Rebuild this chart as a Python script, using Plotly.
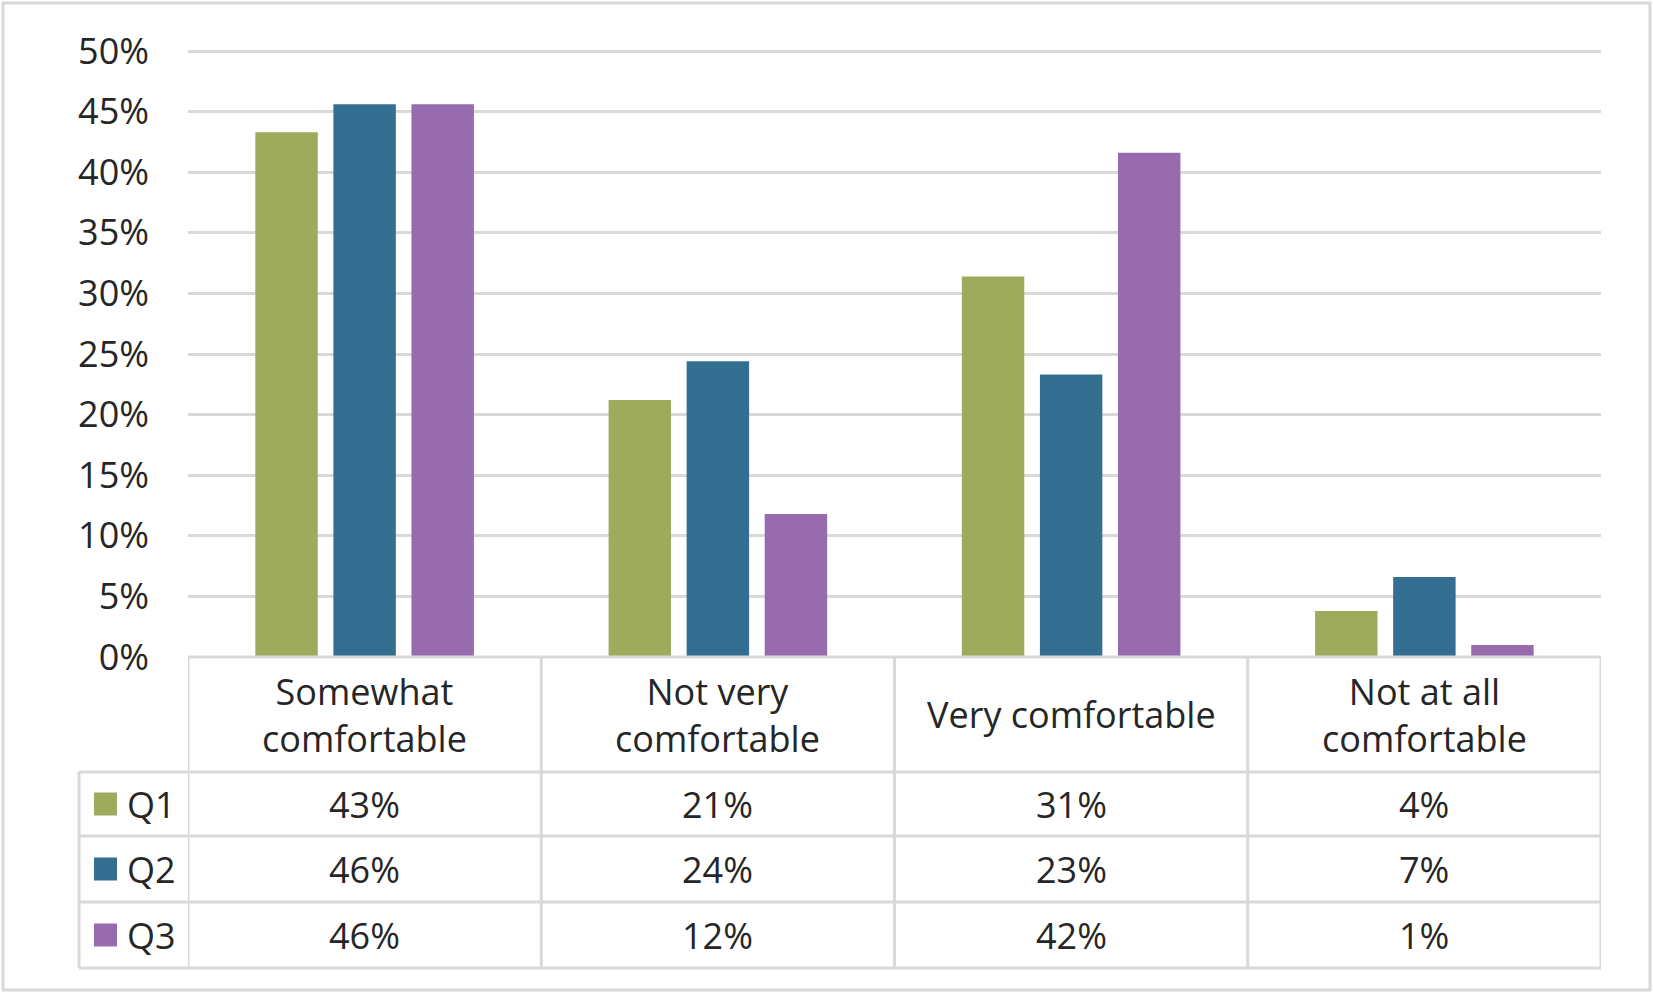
import plotly.graph_objects as go

# ---- data ----
categories = ["Somewhat comfortable", "Not very comfortable", "Very comfortable", "Not at all comfortable"]
category_labels = ["Somewhat<br>comfortable", "Not very<br>comfortable", "Very comfortable", "Not at all<br>comfortable"]
series_names = ["Q1", "Q2", "Q3"]
q1_values = [43.3, 21.2, 31.4, 3.8]
q2_values = [45.6, 24.4, 23.3, 6.6]
q3_values = [45.6, 11.8, 41.6, 1.0]
series_values = [q1_values, q2_values, q3_values]
series_colors = ["#9EAB5D", "#346F91", "#986BAE"]
y_ticks = [0, 5, 10, 15, 20, 25, 30, 35, 40, 45, 50]

# ---- layout constants (pixels) ----
W, H = 1653, 993
L, R, T, B = 188, 52, 49, 336
PW, PH = W - L - R, H - T - B
Y_TOP = 50 * PH / (PH - 2)  # keep the 50% gridline 2px inside the plot area
FONT = "Open Sans"
TXT = "#262626"
LINE = "#D9D9D9"
FS = 36


def px_x(px):
    return (px - L) / PW


def px_y(py):
    return (H - B - py) / PH


fig = go.Figure()
for name, vals, col in zip(series_names, series_values, series_colors):
    fig.add_trace(go.Bar(x=categories, y=vals, name=name, marker=dict(color=col, line=dict(width=0)),
                         showlegend=False, hoverinfo="x+y+name"))

shapes = []
annotations = []
row_edges = [657, 772, 836, 902, 968]
legend_left = px_x(79)

# horizontal table lines
shapes.append(dict(type="line", xref="x", yref="paper", x0=-0.5, x1=len(categories) - 0.5,
                   y0=px_y(row_edges[0]), y1=px_y(row_edges[0]), line=dict(color=LINE, width=3)))
for e in row_edges[1:]:
    shapes.append(dict(type="line", xref="paper", yref="paper", x0=legend_left, x1=1,
                       y0=px_y(e), y1=px_y(e), line=dict(color=LINE, width=3)))
# vertical table lines
for i in range(len(categories) + 1):
    shapes.append(dict(type="line", xref="x", yref="paper", x0=i - 0.5, x1=i - 0.5,
                       y0=px_y(row_edges[0]), y1=px_y(row_edges[-1]), line=dict(color=LINE, width=3)))
shapes.append(dict(type="line", xref="paper", yref="paper", x0=legend_left, x1=legend_left,
                   y0=px_y(row_edges[1]), y1=px_y(row_edges[-1]), line=dict(color=LINE, width=3)))
# outer border
shapes.append(dict(type="rect", xref="paper", yref="paper", x0=px_x(3), x1=px_x(W - 3),
                   y0=px_y(H - 3), y1=px_y(3), line=dict(color=LINE, width=3)))

# header labels
hdr_c = (row_edges[0] + row_edges[1]) / 2
for cat, lab in zip(categories, category_labels):
    annotations.append(dict(xref="x", yref="paper", x=cat, y=px_y(hdr_c), text=lab, showarrow=False,
                            xanchor="center", yanchor="middle", font=dict(family=FONT, size=FS, color=TXT)))

# data rows
for r, (name, vals, col) in enumerate(zip(series_names, series_values, series_colors)):
    yc = (row_edges[r + 1] + row_edges[r + 2]) / 2
    shapes.append(dict(type="rect", xref="paper", yref="paper", x0=px_x(94), x1=px_x(117),
                       y0=px_y(yc + 11.5), y1=px_y(yc - 11.5), fillcolor=col, line=dict(width=0)))
    annotations.append(dict(xref="paper", yref="paper", x=px_x(125), y=px_y(yc), text=name, showarrow=False,
                            xanchor="left", yanchor="middle", font=dict(family=FONT, size=FS, color=TXT)))
    for cat, v in zip(categories, vals):
        annotations.append(dict(xref="x", yref="paper", x=cat, y=px_y(yc), text=f"{round(v):d}%",
                                showarrow=False, xanchor="center", yanchor="middle",
                                font=dict(family=FONT, size=FS, color=TXT)))

fig.update_layout(
    width=W, height=H,
    margin=dict(l=L, r=R, t=T, b=B, pad=0),
    paper_bgcolor="white", plot_bgcolor="white",
    barmode="group", bargap=0.337, bargroupgap=0.2,
    font=dict(family=FONT, size=FS, color=TXT),
    shapes=shapes, annotations=annotations,
    xaxis=dict(showticklabels=False, showgrid=False, zeroline=False, showline=False,
               range=[-0.5, len(categories) - 0.5], fixedrange=True),
    yaxis=dict(range=[0, Y_TOP], tickvals=y_ticks, ticktext=[f"{t}%" for t in y_ticks],
               showgrid=True, gridcolor=LINE, gridwidth=3, zeroline=False, showline=False,
               ticks="", ticklabelstandoff=38, tickfont=dict(family=FONT, size=FS, color=TXT),
               fixedrange=True),
)

fig.write_html("out.html", config={"displayModeBar": False},
               post_script="document.body.style.margin='0';document.body.style.overflow='hidden';")
